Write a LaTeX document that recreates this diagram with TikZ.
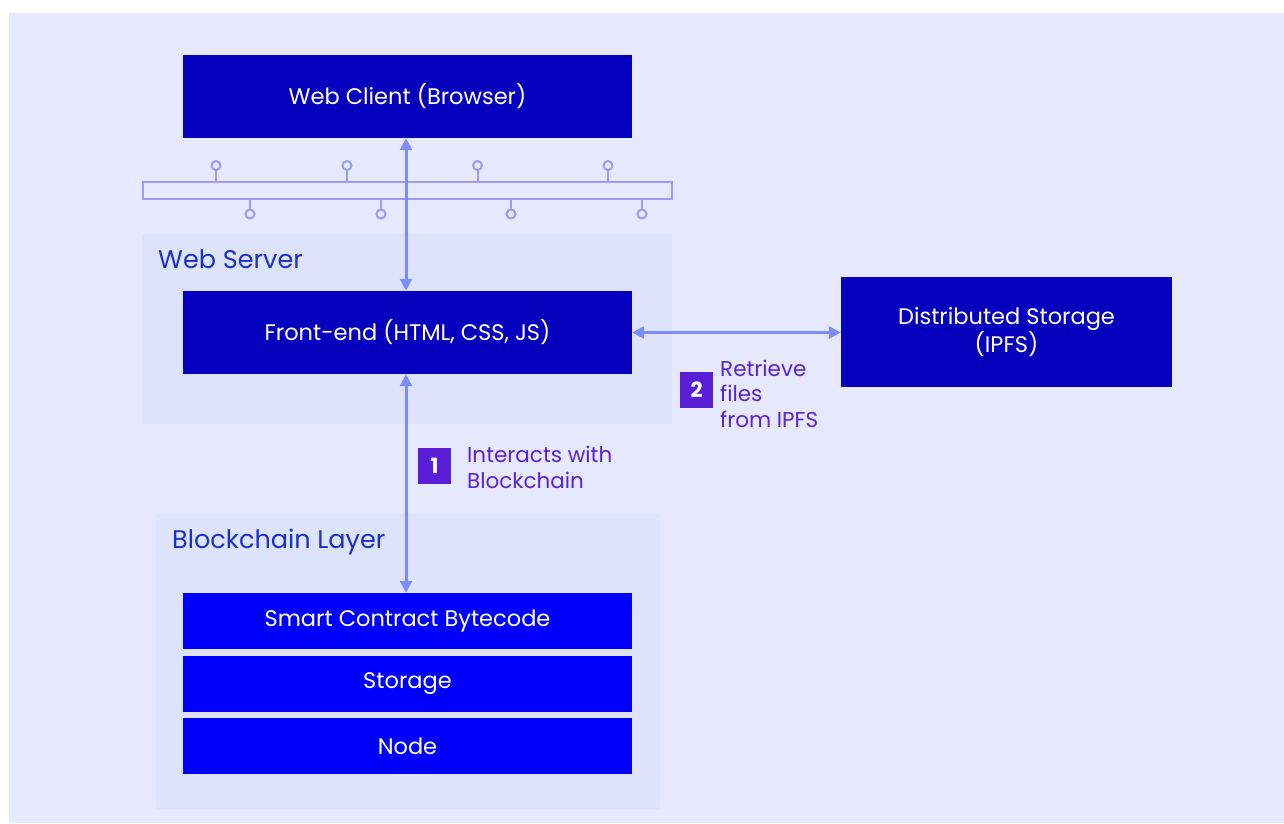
\documentclass[tikz,border=0pt]{standalone}
\usepackage{fontspec}
\setmainfont{Poppins}
\usetikzlibrary{arrows.meta}
\definecolor{bgl}{HTML}{E6E8FE}
\definecolor{panel}{HTML}{DEE3FC}
\definecolor{dkblue}{HTML}{0600BE}
\definecolor{brblue}{HTML}{0000FF}
\definecolor{arrowc}{HTML}{7C8CFF}
\definecolor{busc}{HTML}{9C9CF2}
\definecolor{badgec}{HTML}{5A1ED6}
\definecolor{labelc}{HTML}{5A22D8}
\definecolor{titlec}{HTML}{1A30C8}
\tikzset{
  box/.style={fill=#1, draw=none, inner sep=0pt, text=white, font=\fontsize{22.5}{27}\selectfont, align=center},
  box/.default=dkblue,
  grp/.style={fill=panel, draw=none, inner sep=0pt},
  grptitle/.style={anchor=base west, text=titlec, font=\fontsize{25.5}{30}\selectfont, inner sep=0pt},
  conn/.style={draw=arrowc, line width=3pt, {Triangle[width=12pt,length=12pt]}-{Triangle[width=12pt,length=12pt]}},
  badge/.style={fill=badgec, text=white, minimum width=33pt, minimum height=36pt, inner sep=0pt, font=\fontsize{21}{24}\selectfont\bfseries},
  lbl/.style={anchor=base west, text=labelc, align=left, inner sep=0pt, font=\fontsize{21.5}{25.5}\selectfont},
  pin/.style={draw=busc, line width=2pt},
}
\begin{document}
\begin{tikzpicture}[x=1pt,y=-1pt]
\useasboundingbox (0,0) rectangle (1284,823);
\fill[white] (0,0) rectangle (1284,823);
\fill[bgl] (9,13) rectangle (1284,823);
% panels
\node[grp, minimum width=530pt, minimum height=190pt] (ws) at (407,329) {};
\node[grp, minimum width=504pt, minimum height=295pt] (bl) at (408,661.5) {};
\node[grptitle] (wst) at (158,268) {Web Server};
\node[grptitle] (blt) at (172,548) {Blockchain Layer};
% bus
\draw[busc, line width=2pt, fill=bgl] (142.5,181.5) rectangle (672,198.5);
\foreach \x in {216,347,477.5,608}{
  \draw[pin] (\x,181.5) -- (\x,170);
  \draw[pin, fill=bgl] (\x,165.5) circle (4.5);
}
\foreach \x in {250,381,511,642}{
  \draw[pin] (\x,198.5) -- (\x,209.5);
  \draw[pin, fill=bgl] (\x,214) circle (4.5);
}
% boxes
\node[box, minimum width=449pt, minimum height=83pt] (wc) at (407.5,96.5) {Web Client (Browser)};
\node[box, minimum width=449pt, minimum height=83pt] (fe) at (407.5,332.5) {Front-end (HTML, CSS, JS)};
\node[box, minimum width=331pt, minimum height=110pt] (ds) at (1006.5,332) {Distributed Storage\\[-1pt](IPFS)};
\node[box=brblue, minimum width=449pt, minimum height=56pt] (sc) at (407.5,621) {Smart Contract Bytecode};
\node[box=brblue, minimum width=449pt, minimum height=56pt] (st) at (407.5,684) {Storage};
\node[box=brblue, minimum width=449pt, minimum height=56pt] (nd) at (407.5,746) {Node};
% connectors
\draw[conn] (wc.south -| 406,0) -- (fe.north -| 406,0);
\draw[conn] (fe.south -| 406,0) -- (sc.north -| 406,0);
\draw[conn] (fe.east) -- (fe.east -| ds.west);
% badges and labels
\node[badge] (b1) at (434.5,466) {1};
\node[lbl] (l1) at (467,488) {Interacts with\\Blockchain};
\node[badge] (b2) at (696.5,390) {2};
\node[lbl] (l2) at (720,427) {Retrieve\\files\\from IPFS};
\end{tikzpicture}
\end{document}
